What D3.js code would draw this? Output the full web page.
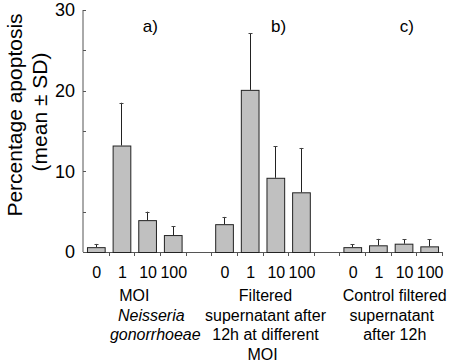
<!DOCTYPE html>
<html><head><meta charset="utf-8">
<script src="https://cdn.jsdelivr.net/npm/d3@7"></script>
<style>body{margin:0;background:#fff}svg{display:block;font-family:"Liberation Sans",Arial,sans-serif}</style>
</head><body>
<svg id="c" width="450" height="362"></svg>
<script>
const groupNames = ["a", "b", "c"];
const moiLabels = ["0", "1", "10", "100"];
const meansA = [0.6, 13.2, 3.95, 2.1];
const sdA = [0.4, 5.3, 1.05, 1.1];
const meansB = [3.45, 20.1, 9.2, 7.4];
const sdB = [0.9, 7.0, 3.9, 5.5];
const meansC = [0.6, 0.83, 1.03, 0.7];
const sdC = [0.35, 0.8, 0.57, 0.9];
const panelLetters = ["a)", "b)", "c)"];
const groupTitles = [
  [{t:"MOI", i:false}, {t:"Neisseria", i:true}, {t:"gonorrhoeae", i:true}],
  [{t:"Filtered", i:false}, {t:"supernatant after", i:false}, {t:"12h at different", i:false}, {t:"MOI", i:false}],
  [{t:"Control filtered", i:false}, {t:"supernatant", i:false}, {t:"after 12h", i:false}]
];
const yTicks = [0, 10, 20, 30];
const yMinorTicks = [5, 15, 25];

const means = [meansA, meansB, meansC];
const sds = [sdA, sdB, sdC];
// slots: 4 bars, gap, 4 bars, gap, 4 bars
const slots = [];
groupNames.forEach((g, gi) => {
  moiLabels.forEach(m => slots.push(g + m));
  if (gi < groupNames.length - 1) slots.push("gap" + gi);
});
const data = [];
groupNames.forEach((g, gi) => moiLabels.forEach((m, mi) => data.push({key: g + m, label: m, v: means[gi][mi], sd: sds[gi][mi], g: gi})));

const svg = d3.select("#c");
const x = d3.scaleBand().domain(slots).range([83, 442]).paddingInner(0.31).paddingOuter(0.155);
const y = d3.scaleLinear().domain([0, 30]).range([252, 10]);
const axisCol = "#555";

// y axis
svg.append("line").attr("x1", 83).attr("x2", 83).attr("y1", y(30)).attr("y2", y(0)).attr("stroke", axisCol);
svg.selectAll(".ytk").data(yTicks.concat(yMinorTicks)).join("line")
  .attr("x1", 83).attr("x2", 86).attr("y1", d => Math.round(y(d)) + 0.5).attr("y2", d => Math.round(y(d)) + 0.5).attr("stroke", axisCol);
svg.selectAll(".ylab").data(yTicks).join("text")
  .attr("x", 75).attr("y", d => y(d)).attr("dy", "0.36em").attr("text-anchor", "end")
  .attr("font-size", 18).text(d => d);

// x axis
svg.append("line").attr("x1", 83).attr("x2", 443).attr("y1", y(0) + 0.5).attr("y2", y(0) + 0.5).attr("stroke", axisCol);
svg.selectAll(".xtk").data(slots).join("line")
  .attr("x1", d => Math.round(x(d) + x.bandwidth() + x.step() * x.paddingInner()/2) + 0.5)
  .attr("x2", d => Math.round(x(d) + x.bandwidth() + x.step() * x.paddingInner()/2) + 0.5)
  .attr("y1", y(0)).attr("y2", y(0) + 4).attr("stroke", axisCol);

// bars
svg.selectAll(".bar").data(data).join("rect")
  .attr("x", d => x(d.key) + 0.5).attr("y", d => y(d.v) + 0.5)
  .attr("width", x.bandwidth()).attr("height", d => y(0) - y(d.v))
  .attr("fill", "#c0c0c0").attr("stroke", "#222").attr("stroke-width", 1);
// error bars
svg.selectAll(".err").data(data).join("line")
  .attr("x1", d => Math.round(x(d.key) + x.bandwidth() / 2) + 0.5).attr("x2", d => Math.round(x(d.key) + x.bandwidth() / 2) + 0.5)
  .attr("y1", d => y(d.v)).attr("y2", d => y(d.v + d.sd)).attr("stroke", "#222");
svg.selectAll(".cap").data(data).join("line")
  .attr("x1", d => Math.round(x(d.key) + x.bandwidth() / 2) - 1.5).attr("x2", d => Math.round(x(d.key) + x.bandwidth() / 2) + 2.5)
  .attr("y1", d => Math.round(y(d.v + d.sd)) + 0.5).attr("y2", d => Math.round(y(d.v + d.sd)) + 0.5).attr("stroke", "#444");

// x tick labels
svg.selectAll(".xl").data(data).join("text")
  .attr("x", d => x(d.key) + x.bandwidth() / 2 + 1).attr("y", 278).attr("text-anchor", "middle")
  .attr("font-size", 16).text(d => d.label);

// panel letters
const groupCenter = gi => (x(groupNames[gi] + moiLabels[0]) + x(groupNames[gi] + moiLabels[3]) + x.bandwidth()) / 2;
const letterOffsets = [16, 16, 16];
panelLetters.forEach((l, gi) => {
  svg.append("text").attr("x", groupCenter(gi) + letterOffsets[gi]).attr("y", 32).attr("text-anchor", "middle")
    .attr("font-size", 17).text(l);
});

// group titles
const titleOffsets = [[0, 17, 21], [3, 3, 3, 0], [4, 1, 4]];
groupTitles.forEach((lines, gi) => {
  lines.forEach((ln, li) => {
    svg.append("text").attr("x", groupCenter(gi) + titleOffsets[gi][li]).attr("y", 301 + li * 19.7)
      .attr("text-anchor", "middle").attr("font-size", 16)
      .attr("font-style", ln.i ? "italic" : "normal").text(ln.t);
  });
});

// y label
const yl = svg.append("text").attr("transform", "translate(0,115) rotate(-90)").attr("text-anchor", "middle").attr("font-size", 21);
yl.append("tspan").attr("x", 0).attr("y", 22).text("Percentage apoptosis");
yl.append("tspan").attr("x", 3).attr("y", 47).text("(mean ± SD)");
</script>
</body></html>
